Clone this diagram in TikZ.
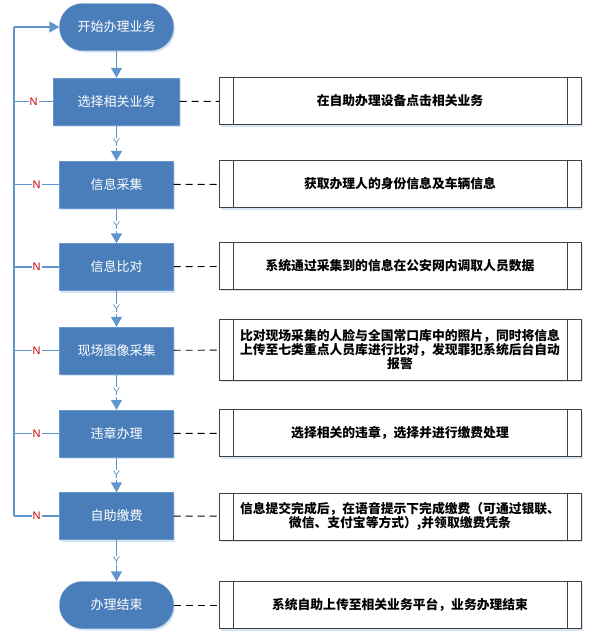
\documentclass[tikz,border=0pt]{standalone}
\usepackage{fontspec}
\setmainfont{Liberation Sans}
\newfontfamily\cjk{Noto Sans CJK SC}
\usetikzlibrary{arrows.meta}
\usetikzlibrary{shadows}

\definecolor{boxBlue}{RGB}{74,126,187}
\definecolor{edgeBlue}{RGB}{105,152,205}
\definecolor{lineBlue}{RGB}{96,150,205}
\definecolor{noRed}{RGB}{200,0,0}

\begin{document}
\begin{tikzpicture}[x=1pt,y=-1pt,%%
  shadowStyle/.style={drop shadow={shadow xshift=1.5pt,shadow yshift=-2pt,fill=lineBlue,opacity=0.25}},%%
  procStyle/.style={rectangle,draw=edgeBlue,fill=boxBlue,text=white,shadowStyle,%%
    minimum width=114pt,minimum height=47pt,font=\cjk\fontsize{13}{15}\selectfont},%%
  termStyle/.style={procStyle,rounded corners=23pt},%%
  noteStyle/.style={rectangle,draw=black!75,fill=white,shadowStyle,align=center,%%
    minimum width=362pt,minimum height=47pt,font=\cjk\bfseries\fontsize{12.8}{14}\selectfont},%%
  flowLine/.style={draw=lineBlue,line width=1.4pt},%%
  arrowStyle/.style={flowLine,-{Triangle[width=11pt,length=10pt]}},%%
  dashStyle/.style={draw=black,line width=0.9pt,dash pattern=on 7pt off 5pt},%%
  yesLabel/.style={fill=white,text=lineBlue,inner sep=1pt,font=\fontsize{11}{11}\selectfont},%%
  noLabel/.style={fill=white,text=noRed,inner sep=1pt,font=\fontsize{11}{11}\selectfont}%%
]
%%
\useasboundingbox (0,0) rectangle (590,640);
%%
\pgfmathsetmacro{\xmain}{116.5}
\pgfmathsetmacro{\xnote}{400}
\pgfmathsetmacro{\bar}{14}
%%
%% Flow steps.
\node[termStyle] (start) at (\xmain,27) {开始办理业务};
\node[procStyle,minimum width=126pt] (select) at (\xmain,101.5) {选择相关业务};
\node[procStyle] (collect) at (\xmain,184.5) {信息采集};
\node[procStyle] (compare) at (\xmain,267) {信息比对};
\node[procStyle] (capture) at (\xmain,350.5) {现场图像采集};
\node[procStyle] (violation) at (\xmain,433.5) {违章办理};
\node[procStyle] (payment) at (\xmain,516) {自助缴费};
\node[termStyle] (finish) at (\xmain,605) {办理结束};
%%
%% Notes on the right.
\node[noteStyle] (selectNote) at (\xnote,101) {在自助办理设备点击相关业务};
\node[noteStyle] (collectNote) at (\xnote,184) {获取办理人的身份信息及车辆信息};
\node[noteStyle] (compareNote) at (\xnote,265.5) {系统通过采集到的信息在公安网内调取人员数据};
\node[noteStyle,minimum height=61pt] (captureNote) at (\xnote,349.5)
  {比对现场采集的人脸与全国常口库中的照片，同时将信息\\上传至七类重点人员库进行比对，发现罪犯系统后台自动\\报警};
\node[noteStyle] (violationNote) at (\xnote,433) {选择相关的违章，选择并进行缴费处理};
\node[noteStyle] (paymentNote) at (\xnote,516.5)
  {信息提交完成后，在语音提示下完成缴费（可通过银联、\\微信、支付宝等方式）,并领取缴费凭条};
\node[noteStyle] (finishNote) at (\xnote,605) {系统自助上传至相关业务平台，业务办理结束};
%%
%% Side bars of the notes.
\foreach \n in {selectNote,collectNote,compareNote,captureNote,violationNote,paymentNote,finishNote}{
  \draw[black!75] ([xshift=\bar pt]\n.north west) -- ([xshift=\bar pt]\n.south west);
  \draw[black!75] ([xshift=-\bar pt]\n.north east) -- ([xshift=-\bar pt]\n.south east);
}
%%
%% Yes arrows.
\draw[arrowStyle] (start) -- (select);
\draw[arrowStyle] (select) -- node[yesLabel] {Y} (collect);
\draw[arrowStyle] (collect) -- node[yesLabel] {Y} (compare);
\draw[arrowStyle] (compare) -- node[yesLabel] {Y} (capture);
\draw[arrowStyle] (capture) -- node[yesLabel] {Y} (violation);
\draw[arrowStyle] (violation) -- node[yesLabel] {Y} (payment);
\draw[arrowStyle] (payment) -- node[yesLabel] {Y} (finish);
%%
%% Loop back on No.
\coordinate (loopTop) at (14,27);
\coordinate (loopBottom) at (14,516);
\draw[flowLine] (loopBottom) -- (loopTop);
\draw[arrowStyle] (loopTop) -- (start);
\foreach \n in {select,collect,compare,capture,violation,payment}{
  \draw[flowLine] (\n.west) -- node[noLabel] {N} (\n.west -| loopTop);
}
%%
%% Links to the notes.
\draw[dashStyle] (select) -- (selectNote);
\draw[dashStyle] (collect) -- (collectNote);
\draw[dashStyle] (compare) -- (compareNote);
\draw[dashStyle] (capture) -- (captureNote);
\draw[dashStyle] (violation) -- (violationNote);
\draw[dashStyle] (payment) -- (paymentNote);
\draw[dashStyle] (finish) -- (finishNote);
\end{tikzpicture}
\end{document}
